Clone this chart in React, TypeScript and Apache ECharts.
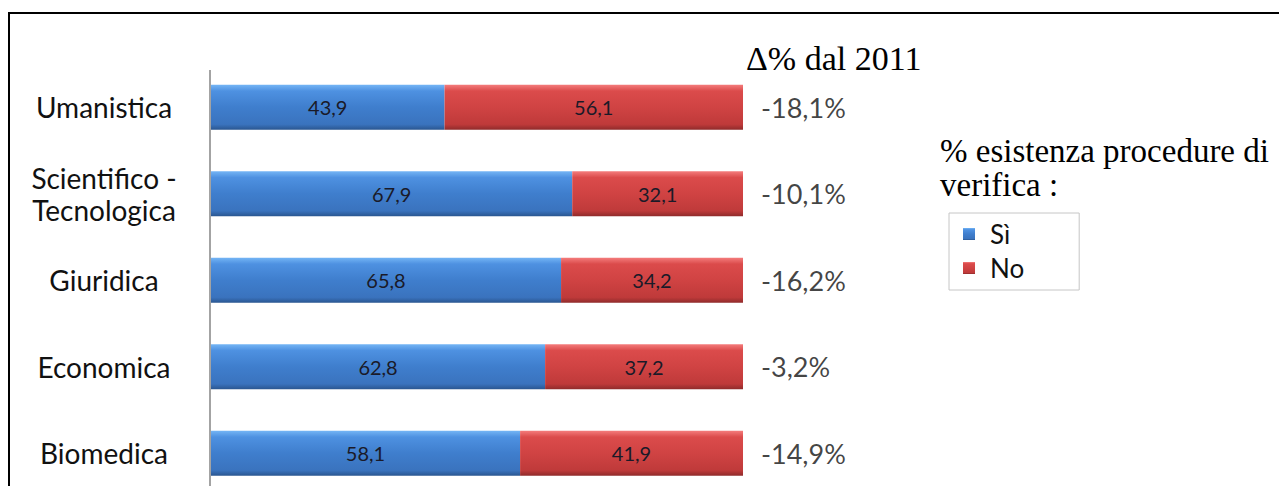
import React, { useEffect, useRef } from "react";
import * as echarts from "echarts";

const categories = ["Umanistica", "Scientifico -\nTecnologica", "Giuridica", "Economica", "Biomedica"];
const siValues = [43.9, 67.9, 65.8, 62.8, 58.1];
const noValues = [56.1, 32.1, 34.2, 37.2, 41.9];
const deltaLabels = ["-18,1%", "-10,1%", "-16,2%", "-3,2%", "-14,9%"];
const seriesNames = ["Sì", "No"];
const headerText = "Δ% dal 2011";
const legendTitle = "% esistenza procedure di\nverifica :";

const SANS = "Lato, 'Open Sans', sans-serif";
const SERIF = "'Liberation Serif', 'DejaVu Serif', serif";

const blueGrad = new echarts.graphic.LinearGradient(0, 0, 0, 1, [
  { offset: 0, color: "#74b5f5" },
  { offset: 0.14, color: "#4e91e1" },
  { offset: 0.5, color: "#3f7ecd" },
  { offset: 0.88, color: "#3a73be" },
  { offset: 1, color: "#2a5690" },
]);
const redGrad = new echarts.graphic.LinearGradient(0, 0, 0, 1, [
  { offset: 0, color: "#f47c7c" },
  { offset: 0.14, color: "#db4b4b" },
  { offset: 0.5, color: "#d04343" },
  { offset: 0.88, color: "#bf3a3a" },
  { offset: 1, color: "#8f2b2b" },
]);

const fmt = (v: number) => String(v).replace(".", ",");

export default function App() {
  const ref = useRef<HTMLDivElement>(null);
  useEffect(() => {
    if (!ref.current) return;
    const chart = echarts.init(ref.current, undefined, { renderer: "svg" });
    const valueLabel = {
      show: true,
      position: "inside",
      fontFamily: SANS,
      fontSize: 20,
      color: "#1a1a28",
      formatter: (p: any) => fmt(p.value),
    };
    chart.setOption({
      animation: false,
      backgroundColor: "#ffffff",
      grid: {
        left: 211,
        width: 532,
        top: 64,
        height: 432.5,
        containLabel: false,
        outerBoundsMode: "none",
      },
      xAxis: {
        type: "value",
        min: 0,
        max: 100,
        show: false,
      },
      yAxis: {
        type: "category",
        data: categories,
        inverse: true,
        axisLine: { show: false },
        axisTick: { show: false },
        splitLine: { show: false },
        axisLabel: {
          align: "center",
          margin: 107,
          fontFamily: SANS,
          fontSize: 28,
          lineHeight: 32,
          color: "#111111",
        },
      },
      legend: {
        data: seriesNames,
        orient: "vertical",
        left: 949,
        top: 213,
        padding: [7, 55, 8, 14],
        borderColor: "#c6c6c6",
        borderWidth: 1,
        itemGap: 6,
        itemWidth: 22,
        itemHeight: 12,
        icon: "path://M0,0h12v12h-12z M22,6L22,6.01",
        textStyle: { fontFamily: SANS, fontSize: 26, lineHeight: 28, color: "#111111" },
      },
      series: [
        {
          name: seriesNames[0],
          type: "bar",
          stack: "total",
          barWidth: 45,
          data: siValues,
          itemStyle: { color: blueGrad },
          label: valueLabel,
        },
        {
          name: seriesNames[1],
          type: "bar",
          stack: "total",
          barWidth: 45,
          data: noValues,
          itemStyle: { color: redGrad },
          label: valueLabel,
        },
        {
          name: "delta",
          type: "scatter",
          symbolSize: 0,
          data: categories.map((c, i) => [siValues[i] + noValues[i], c]),
          label: {
            show: true,
            position: "right",
            distance: 18,
            fontFamily: SANS,
            fontSize: 27,
            color: "#111111",
            formatter: (p: any) => deltaLabels[p.dataIndex],
          },
        },
      ],
      graphic: [
        {
          type: "rect",
          shape: { x: 9, y: 13, width: 1400, height: 600 },
          style: { fill: "none", stroke: "#000000", lineWidth: 2 },
          silent: true,
        },
        {
          type: "line",
          shape: { x1: 210, y1: 70, x2: 210, y2: 490 },
          style: { stroke: "#a3a3a3", lineWidth: 2 },
          silent: true,
        },
        {
          type: "text",
          x: 746,
          y: 58,
          style: {
            text: headerText,
            fontFamily: SERIF,
            fontSize: 34,
            fill: "#000000",
            verticalAlign: "middle",
            align: "left",
          },
        },
        {
          type: "text",
          x: 940,
          y: 168,
          style: {
            text: legendTitle,
            fontFamily: SERIF,
            fontSize: 33,
            lineHeight: 34,
            fill: "#000000",
            verticalAlign: "middle",
            align: "left",
          },
        },
      ],
    });
    return () => chart.dispose();
  }, []);
  return (
    <div style={{ position: "fixed", left: 0, top: 0, width: 1279, height: 486, background: "#fff" }}>
      <div ref={ref} style={{ width: 1279, height: 486 }} />
    </div>
  );
}
